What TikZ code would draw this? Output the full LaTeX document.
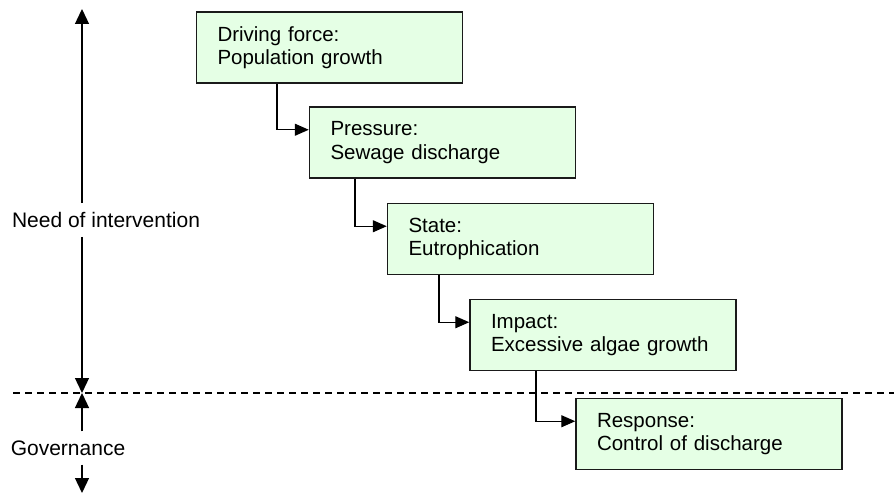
\documentclass[tikz,border=0pt]{standalone}
\usepackage{fontspec}
\setmainfont{Liberation Sans}
\usetikzlibrary{arrows.meta}
\definecolor{boxgreen}{HTML}{E5FFE5}
\definecolor{boxline}{HTML}{1A1A1A}

\tikzset{
  dpsir/.style={draw=boxline, fill=boxgreen, line width=1.5pt, minimum height=71pt,
    text width=224pt, inner xsep=21pt, align=left, font=\fontsize{20.5}{23.5}\selectfont},
  link/.style={line width=1.3pt, -{Triangle[length=14pt,width=12pt]}},
  axis/.style={line width=1.3pt, -{Triangle[length=15pt,width=14pt]}},
  lbl/.style={font=\fontsize{21}{24}\selectfont, inner xsep=0pt, inner ysep=9pt},
  sep/.style={line width=1.2pt, dash pattern=on 7pt off 5pt}
}

\begin{document}
\begin{tikzpicture}[x=1pt,y=-1pt]
\useasboundingbox (0,0) rectangle (894,494);

% DPSIR chain
\node[dpsir] (drive) at (329.5,47.5) {Driving force:\\Population growth};
\node[dpsir] (press) at (442.5,142.5) {Pressure:\\Sewage discharge};
\node[dpsir] (state) at (520.5,239) {State:\\Eutrophication};
\node[dpsir] (impact) at (603,335) {Impact:\\Excessive algae growth};
\node[dpsir] (resp) at (709,434) {Response:\\Control of discharge};

% arrows enter at the height of the first text line
\draw[link] ([xshift=-52.5pt]drive.south) |- ([yshift=-23.5pt]press.north west);
\draw[link] ([xshift=-87.5pt]press.south) |- ([yshift=-23.5pt]state.north west);
\draw[link] ([xshift=-81.5pt]state.south) |- ([yshift=-23.5pt]impact.north west);
\draw[link] ([xshift=-67pt]impact.south) |- ([yshift=-23.5pt]resp.north west);

% left axis
\coordinate (axtop) at (82,9);
\coordinate (axmid) at (82,393);
\coordinate (axbot) at (82,493);
\node[lbl] (need) at (106,220) {Need of intervention};
\node[lbl] (gov) at (68,448) {Governance};

\draw[axis] (need.north -| axtop) -- (axtop);
\draw[axis] (need.south -| axtop) -- (axmid);
\draw[axis] (gov.north -| axtop) -- (axmid);
\draw[axis] (gov.south -| axtop) -- (axbot);

% separator
\coordinate (sepL) at (13,393);
\coordinate (sepR) at (894,393);
\draw[sep] (sepL) -- (sepR);
\end{tikzpicture}
\end{document}
